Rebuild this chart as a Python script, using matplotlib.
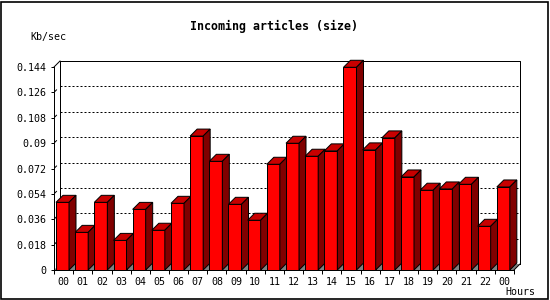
import numpy as np
import matplotlib
matplotlib.use("Agg")
import matplotlib.pyplot as plt
from matplotlib.patches import Polygon, Rectangle

# ------------------------------------------------------------
# data
# ------------------------------------------------------------
hours = ["00", "01", "02", "03", "04", "05", "06", "07", "08", "09", "10", "11",
         "12", "13", "14", "15", "16", "17", "18", "19", "20", "21", "22", "00"]
kb_sec = [0.048, 0.0267, 0.048, 0.021, 0.043, 0.0282, 0.0473, 0.095,
          0.0771, 0.0466, 0.0353, 0.075, 0.0899, 0.0807, 0.0845, 0.1438,
          0.0852, 0.0937, 0.066, 0.0566, 0.0575, 0.0608, 0.031, 0.0589]
y_ticks = [0, 0.018, 0.036, 0.054, 0.072, 0.09, 0.108, 0.126, 0.144]
y_labels = ["0", "0.018", "0.036", "0.054", "0.072", "0.09", "0.108", "0.126", "0.144"]

plt.rcParams['lines.scale_dashes'] = False
MONO = "DejaVu Sans Mono"

W, H = 550, 300
fig = plt.figure(figsize=(W / 100, H / 100), dpi=100)

# front plot area in pixels
x0, x1 = 54, 514
y0, y1 = 270, 67
ax = fig.add_axes([x0 / W, 1 - y0 / H, (x1 - x0) / W, (y0 - y1) / H])
n = len(hours)
ymax = 0.144
ax.set_xlim(0, n)
ax.set_ylim(0, ymax)

px_x = n / (x1 - x0)          # data units per pixel
px_y = ymax / (y0 - y1)

wdx, wdy = 6 * px_x, 6 * px_y  # wall depth
bdx, bdy = 7 * px_x, 7 * px_y  # bar depth
bar_off = 2 * px_x
bar_w = 13 * px_x

lw = 0.72

# floor
ax.add_patch(Polygon([(0, 0), (n, 0), (n + wdx, wdy), (wdx, wdy)],
                     closed=True, facecolor="#808080", edgecolor="none",
                     clip_on=False, zorder=1))

# back wall grid lines
for v in y_ticks[1:-1]:
    ax.plot([wdx, n + wdx], [v + wdy, v + wdy], color="black", lw=lw,
            linestyle=(0, (1.44, 1.44)), clip_on=False, zorder=2)
    ax.plot([0.3 * px_x * 0 + px_x, 2.5 * px_x], [v + px_y, v + 2.5 * px_y],
            color="black", lw=lw, clip_on=False, zorder=2)

# back wall outline
ax.plot([wdx, wdx, n + wdx, n + wdx], [wdy, ymax + wdy, ymax + wdy, wdy],
        color="black", lw=lw, clip_on=False, zorder=2)
ax.plot([0, wdx], [ymax, ymax + wdy], color="black", lw=lw, clip_on=False, zorder=2)
ax.plot([n, n + wdx], [0, wdy], color="black", lw=lw, clip_on=False, zorder=2)

# bars
for i, v in enumerate(kb_sec):
    xl = i + bar_off
    xr = xl + bar_w
    ax.add_patch(Rectangle((xl, 0), bar_w, v, facecolor="#ff0000",
                           edgecolor="black", lw=lw, clip_on=False, zorder=3 + i))
    ax.add_patch(Polygon([(xl, v), (xr, v), (xr + bdx, v + bdy), (xl + bdx, v + bdy)],
                         closed=True, facecolor="#c80000", edgecolor="black",
                         lw=lw, clip_on=False, zorder=3 + i))
    ax.add_patch(Polygon([(xr, 0), (xr + bdx, bdy), (xr + bdx, v + bdy), (xr, v)],
                         closed=True, facecolor="#800000", edgecolor="black",
                         lw=lw, clip_on=False, zorder=3 + i))

# axes
for s in ["top", "right"]:
    ax.spines[s].set_visible(False)
for s in ["left", "bottom"]:
    ax.spines[s].set_linewidth(lw)
    ax.spines[s].set_zorder(40)

ax.set_yticks(y_ticks)
ax.set_yticklabels(y_labels, fontsize=7.2, family=MONO)
ax.tick_params(axis="y", length=2.2, width=lw, pad=3.6, direction="out")

ax.set_xticks(np.arange(n) + 0.5)
ax.set_xticklabels(hours, fontsize=7.2, family=MONO)
ax.set_xticks(np.arange(n + 1), minor=True)
ax.tick_params(axis="x", which="major", length=0, pad=5)
ax.tick_params(axis="x", which="minor", length=3, width=lw, direction="out")

# text
fig.text(274 / W, 1 - 26.7 / H, "Incoming articles (size)", ha="center", va="center",
         fontsize=8.4, fontweight="bold", family=MONO)
fig.text(30 / W, 1 - 36.7 / H, "Kb/sec", ha="left", va="center", fontsize=7.2, family=MONO)
fig.text(505 / W, 1 - 292 / H, "Hours", ha="left", va="center", fontsize=7.2, family=MONO)

# image border
fig.patches.append(Rectangle((0.5 / W, 1.5 / H), 547.5 / W, 297 / H,
                             transform=fig.transFigure, fill=False,
                             edgecolor="black", lw=1.2))

fig.savefig("out.png", dpi=100)
